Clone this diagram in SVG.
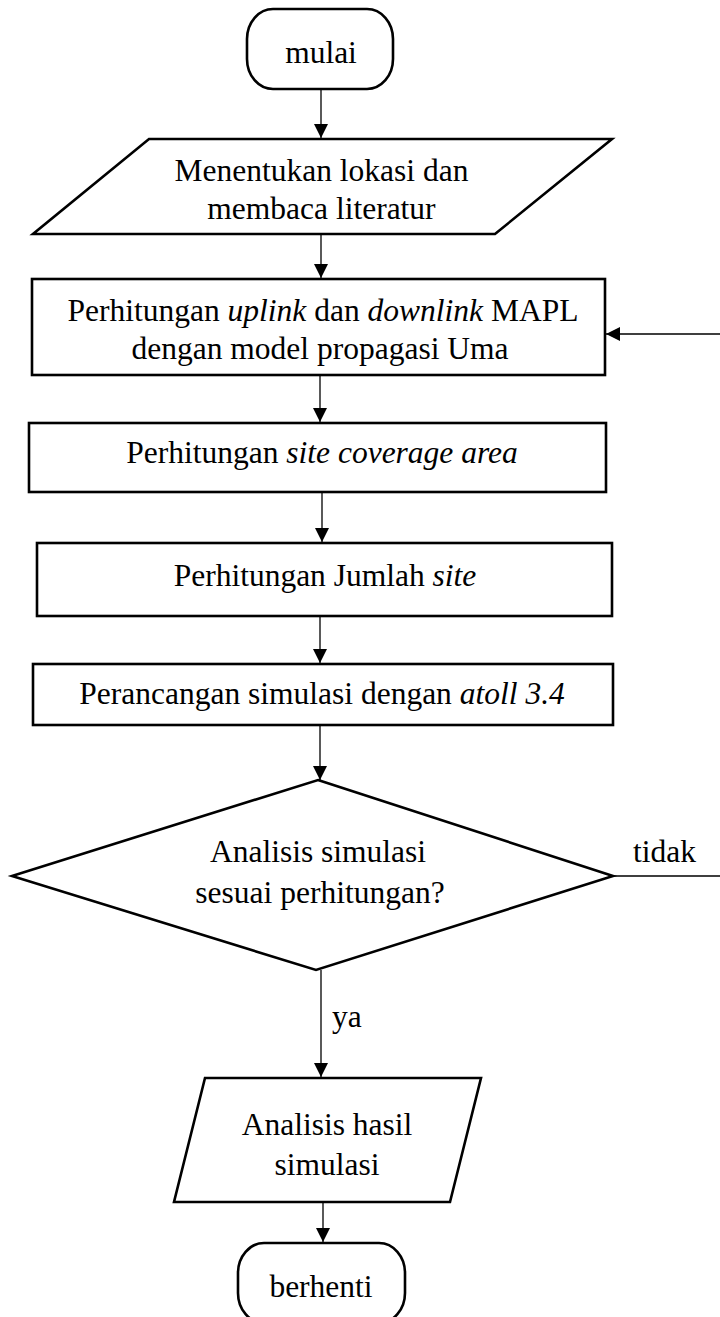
<svg xmlns="http://www.w3.org/2000/svg" width="720" height="1317" viewBox="0 0 720 1317">
<style>
.shape{fill:#fff;stroke:#000;stroke-width:2.6;stroke-linejoin:miter}
.conn{fill:none;stroke:#000;stroke-width:1.3}
text{font-family:"Liberation Serif","Times New Roman",serif;font-size:31.5px;fill:#000;text-anchor:middle}
.lbl{text-anchor:start}
.it{font-style:italic}
</style>
<defs>
<marker id="arr" markerUnits="userSpaceOnUse" markerWidth="14" markerHeight="14" refX="14" refY="7" orient="auto">
<path d="M0,0 L14,7 L0,14 z" fill="#000"/>
</marker>
</defs>
<rect x="0" y="0" width="720" height="1317" fill="#fff"/>
<g id="connectors">
<line class="conn" x1="321" y1="89" x2="321" y2="138" marker-end="url(#arr)"/>
<line class="conn" x1="321" y1="234" x2="321" y2="278" marker-end="url(#arr)"/>
<line class="conn" x1="320" y1="375" x2="320" y2="422" marker-end="url(#arr)"/>
<line class="conn" x1="322" y1="492" x2="322" y2="542" marker-end="url(#arr)"/>
<line class="conn" x1="320" y1="616" x2="320" y2="663" marker-end="url(#arr)"/>
<line class="conn" x1="320" y1="725" x2="320" y2="780" marker-end="url(#arr)"/>
<line class="conn" x1="321" y1="970" x2="321" y2="1077" marker-end="url(#arr)"/>
<line class="conn" x1="323" y1="1202" x2="323" y2="1242" marker-end="url(#arr)"/>
<path class="conn" d="M613,876 L723,876 L723,334 L606,334" marker-end="url(#arr)"/>
<text class="lbl" x="633" y="862">tidak</text>
<text class="lbl" x="332" y="1027">ya</text>
</g>
<g id="mulai">
<rect class="shape" x="247" y="9" width="146" height="80" rx="26" ry="30"/>
<text x="321" y="63">mulai</text>
</g>
<g id="menentukan">
<polygon class="shape" points="149,139 612,139 495,234 33,234"/>
<text x="321.5" y="181">Menentukan lokasi dan</text>
<text x="321.5" y="219">membaca literatur</text>
</g>
<g id="mapl">
<rect class="shape" x="32" y="279" width="573" height="96"/>
<text x="323" y="321">Perhitungan <tspan class="it">uplink</tspan> dan <tspan class="it">downlink</tspan> MAPL</text>
<text x="320" y="359">dengan model propagasi Uma</text>
</g>
<g id="coverage">
<rect class="shape" x="29" y="423" width="577" height="69"/>
<text x="322" y="463">Perhitungan <tspan class="it">site coverage area</tspan></text>
</g>
<g id="jumlah">
<rect class="shape" x="37" y="543" width="575" height="73"/>
<text x="325" y="586">Perhitungan Jumlah <tspan class="it">site</tspan></text>
</g>
<g id="perancangan">
<rect class="shape" x="33" y="664" width="580" height="61"/>
<text x="322" y="704">Perancangan simulasi dengan <tspan class="it">atoll 3.4</tspan></text>
</g>
<g id="keputusan">
<polygon class="shape" points="318,780 613,876 316,970 12,876"/>
<text x="318" y="862">Analisis simulasi</text>
<text x="320" y="903">sesuai perhitungan?</text>
</g>
<g id="analisis">
<polygon class="shape" points="205,1078 481,1078 450,1202 174,1202"/>
<text x="327" y="1135">Analisis hasil</text>
<text x="327" y="1175">simulasi</text>
</g>
<g id="berhenti">
<rect class="shape" x="238" y="1243" width="167" height="80" rx="26" ry="30"/>
<text x="321" y="1297">berhenti</text>
</g>
</svg>
